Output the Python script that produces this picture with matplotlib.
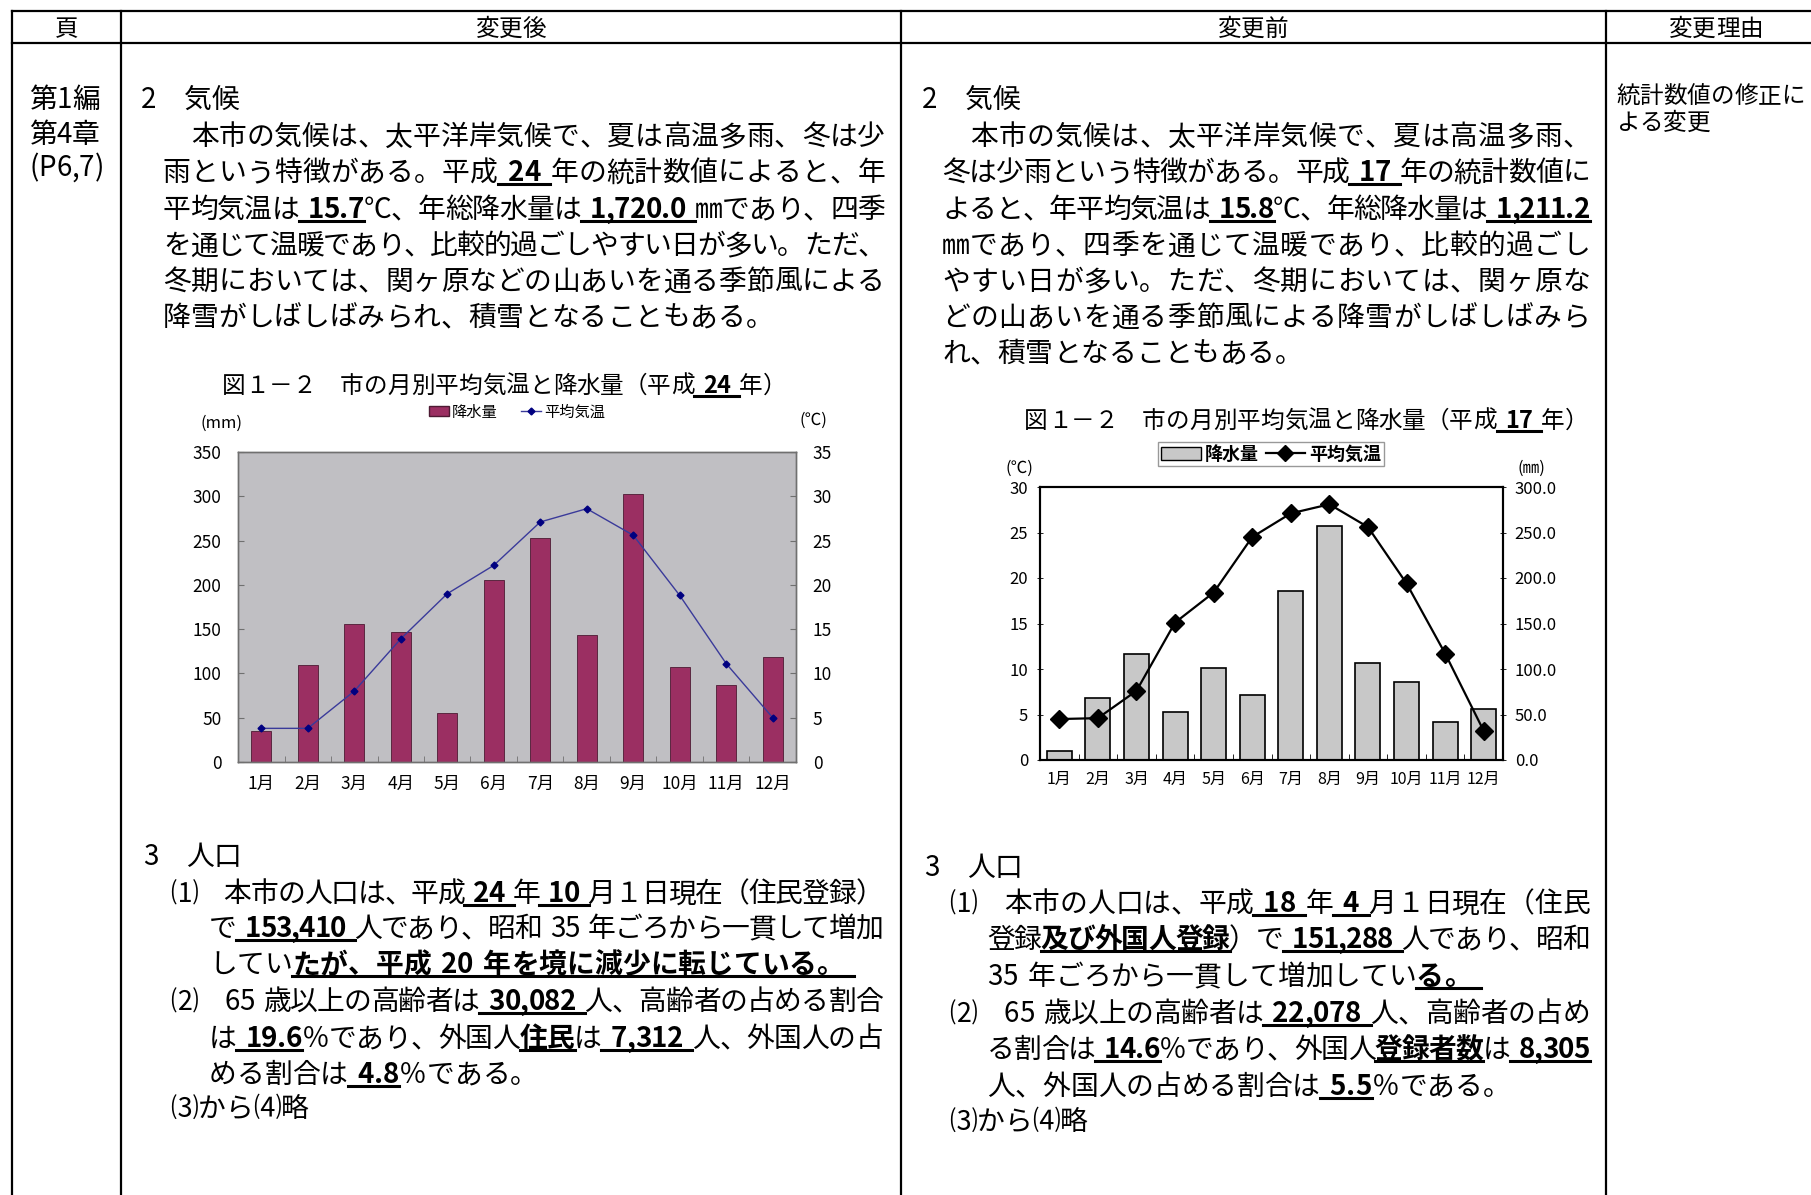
import matplotlib
matplotlib.use('Agg')
import matplotlib.pyplot as plt
from matplotlib.lines import Line2D
from matplotlib.patches import Patch
from matplotlib.font_manager import FontProperties
from matplotlib.ticker import FormatStrFormatter
import numpy as np

plt.rcParams['font.family'] = ['Noto Sans CJK JP', 'DejaVu Sans']

W, H = 1811, 1195

# --- chart data ---
months = ['1月', '2月', '3月', '4月', '5月', '6月', '7月', '8月', '9月', '10月', '11月', '12月']
rain_h24 = [35, 110, 156, 147, 55, 206, 253, 143, 303, 107, 87, 119]          # mm
temp_h24 = [3.8, 3.8, 8.0, 13.9, 19.0, 22.2, 27.1, 28.6, 25.6, 18.8, 11.1, 5.0]  # deg C
rain_h17 = [10.3, 68.6, 117.0, 53.2, 100.8, 71.1, 185.2, 256.7, 106.7, 85.4, 41.4, 56.1]
temp_h17 = [4.5, 4.6, 7.6, 15.1, 18.4, 24.5, 27.1, 28.1, 25.6, 19.4, 11.7, 3.2]

# --- document text (**...** = bold + underlined) ---
headers = ['頁', '変更後', '変更前', '変更理由']
page_ref = ['第1編', '第4章', '(P6,7)']
reason = ['統計数値の修正に', 'よる変更']

after_climate = [
    '2　気候',
    '　本市の気候は、太平洋岸気候で、夏は高温多雨、冬は少',
    '雨という特徴がある。平成** 24 **年の統計数値によると、年',
    '平均気温は** 15.7**℃、年総降水量は** 1,720.0 **㎜であり、四季',
    'を通じて温暖であり、比較的過ごしやすい日が多い。ただ、',
    '冬期においては、関ヶ原などの山あいを通る季節風による',
    '降雪がしばしばみられ、積雪となることもある。',
]
before_climate = [
    '2　気候',
    '　本市の気候は、太平洋岸気候で、夏は高温多雨、',
    '冬は少雨という特徴がある。平成** 17 **年の統計数値に',
    'よると、年平均気温は** 15.8**℃、年総降水量は** 1,211.2**',
    '㎜であり、四季を通じて温暖であり、比較的過ごし',
    'やすい日が多い。ただ、冬期においては、関ヶ原な',
    'どの山あいを通る季節風による降雪がしばしばみら',
    'れ、積雪となることもある。',
]
after_pop = [
    '3　人口',
    '⑴　本市の人口は、平成** 24 **年** 10 **月１日現在（住民登録）',
    'で** 153,410 **人であり、昭和 35 年ごろから一貫して増加',
    'してい**たが、平成 20 年を境に減少に転じている。 **',
    '⑵　65 歳以上の高齢者は** 30,082 **人、高齢者の占める割合',
    'は** 19.6**％であり、外国人**住民**は** 7,312 **人、外国人の占',
    'める割合は** 4.8**％である。',
    '⑶から⑷略',
]
before_pop = [
    '3　人口',
    '⑴　本市の人口は、平成** 18 **年** 4 **月１日現在（住民',
    '登録**及び外国人登録**）で** 151,288 **人であり、昭和',
    '35 年ごろから一貫して増加してい**る。 **',
    '⑵　65 歳以上の高齢者は** 22,078 **人、高齢者の占め',
    'る割合は** 14.6**％であり、外国人**登録者数**は** 8,305**',
    '人、外国人の占める割合は** 5.5**％である。',
    '⑶から⑷略',
]
title_after = '図１－２　市の月別平均気温と降水量（平成** 24 **年）'
title_before = '図１－２　市の月別平均気温と降水量（平成** 17 **年）'

fig = plt.figure(figsize=(W / 100, H / 100), dpi=100)
rend = fig.canvas.get_renderer()
FAM = ['Noto Sans CJK JP', 'DejaVu Sans']
_adv = {}


def adv(ch, bold, size):
    # advance width of one character in pixels
    key = (ch, bold, size)
    if key not in _adv:
        if ch == ' ':
            _adv[key] = 0.35 * size * 100 / 72
        else:
            fp = FontProperties(family=FAM, weight='bold' if bold else 'normal', size=size)
            w1 = rend.get_text_width_height_descent('M' + ch + 'M', fp, ismath=False)[0]
            w0 = rend.get_text_width_height_descent('MM', fp, ismath=False)[0]
            _adv[key] = w1 - w0
    return _adv[key]


def fline(x0, y0, x1, y1, lw=1.6, color='k'):
    fig.add_artist(Line2D([x0 / W, x1 / W], [1 - y0 / H, 1 - y1 / H], color=color, lw=lw,
                          transform=fig.transFigure))


def draw_line(x, yc, text, size=20, end=None, center=None):
    parts = text.split('**')
    chars = []
    for i, p in enumerate(parts):
        for ch in p:
            chars.append((ch, i % 2 == 1))
    ws = [adv(c, b, size) for c, b in chars]
    if center is not None:
        x = center - sum(ws) / 2
    gap = 0
    if end is not None and len(chars) > 1:
        gap = (end - x - sum(ws)) / (len(chars) - 1)
    yb = yc + 0.37 * size * 100 / 72
    cx = x
    run = None
    for (c, b), w in zip(chars, ws):
        if c not in ' 　':
            fig.text(cx / W, 1 - yb / H, c, fontsize=size, fontweight='bold' if b else 'normal',
                     ha='left', va='baseline')
        if b:
            if run is None:
                run = [cx, cx + w]
            else:
                run[1] = cx + w
        elif run is not None:
            fline(run[0], yb + 3, run[1], yb + 3, lw=2.2)
            run = None
        cx += w + gap
    if run is not None:
        fline(run[0], yb + 3, run[1], yb + 3, lw=2.2)


# --- table frame ---
col_x = [12, 121, 901, 1606]
fline(12, 11, W, 11)
fline(12, 42.5, W, 42.5)
for cxp in col_x:
    fline(cxp, 11, cxp, H)
head_cx = [67, 511, 1253, 1716]
for s, cxp in zip(headers, head_cx):
    draw_line(0, 27, s, size=17, center=cxp)

for s, y in zip(page_ref, [98, 133, 166]):
    draw_line(29, y, s)
for s, y in zip(reason, [94, 121]):
    draw_line(1616, y, s, size=17)

# --- text blocks ---
blocks = [
    (after_climate, [141] + [163] * 6, [98, 135, 171, 208, 244, 280, 316],
     [None, 885, 885, 885, 885, 885, None]),
    (before_climate, [922] + [942] * 7, [98, 135, 171, 208, 244, 280, 316, 352],
     [None] + [1590] * 6 + [None]),
    (after_pop, [143, 170, 209, 209, 170, 209, 209, 170],
     [855, 892, 927, 963, 1000, 1037, 1073, 1107],
     [None, 883, 883, None, 883, 883, None, None]),
    (before_pop, [924, 949, 987, 987, 949, 987, 987, 949],
     [866, 902, 938, 975, 1012, 1048, 1085, 1120],
     [None, 1590, 1590, None, 1590, 1590, None, None]),
]
for lines, xs, ys, ends in blocks:
    for s, x, y, e in zip(lines, xs, ys, ends):
        draw_line(x, y, s, end=e)

draw_line(0, 384, title_after, size=17, center=504)
draw_line(1024, 419, title_before, size=17)

x = np.arange(len(months))

# --- left chart (after) ---
bar_c = '#9B2F62'
line_c = '#3a3a9a'
ax1 = fig.add_axes([238 / W, 1 - 762 / H, (796 - 238) / W, (762 - 452) / H])
ax1.set_facecolor('#C0BFC3')
ax1.bar(x, rain_h24, width=0.42, color=bar_c, edgecolor='#4d1a33', linewidth=0.6)
ax1.set_xlim(-0.5, 11.5)
ax1.set_ylim(0, 350)
ax1.set_yticks(range(0, 351, 50))
ax1.set_xticks(x)
ax1.set_xticklabels(months)
ax1.set_xticks(np.arange(-0.5, 12, 1), minor=True)
ax1b = ax1.twinx()
ax1b.plot(x, temp_h24, color=line_c, lw=1, marker='D', ms=3.5, mfc='#000080', mec='#000080')
ax1b.set_ylim(0, 35)
ax1b.set_yticks(range(0, 36, 5))
for a in (ax1, ax1b):
    for sp in a.spines.values():
        sp.set_color('#707070')
        sp.set_linewidth(1)
    a.tick_params(axis='y', direction='in', length=4, color='#707070', labelsize=12.5, pad=12)
    a.tick_params(axis='x', which='major', length=0, labelsize=12.5, pad=9)
    a.tick_params(axis='x', which='minor', direction='in', length=4, color='#707070')

fig.legend([Patch(facecolor=bar_c, edgecolor='#4d1a33'),
            Line2D([], [], color=line_c, lw=1, marker='D', ms=3.5, mfc='#000080', mec='#000080')],
           ['降水量', '平均気温'], loc='center', bbox_to_anchor=(517 / W, 1 - 412 / H), ncol=2,
           frameon=False, fontsize=11, handlelength=1.3, handletextpad=0.2, columnspacing=1.5)
fig.text(221 / W, 1 - 423 / H, '(mm)', fontsize=12, ha='center', va='center')
fig.text(813 / W, 1 - 420 / H, '(℃)', fontsize=12, ha='center', va='center')

# --- right chart (before) ---
ax2 = fig.add_axes([1040 / W, 1 - 760 / H, (1503 - 1040) / W, (760 - 487) / H])
ax2.bar(x, rain_h17, width=0.65, color='#C8C8C8', edgecolor='black', linewidth=1.2)
ax2.set_xlim(-0.5, 11.5)
ax2.set_ylim(0, 300)
ax2.set_yticks(np.arange(0, 301, 50))
ax2.yaxis.set_major_formatter(FormatStrFormatter('%.1f'))
ax2.set_xticks(x)
ax2.set_xticklabels(months)
ax2.set_xticks(np.arange(-0.5, 12, 1), minor=True)
ax2b = ax2.twinx()
ax2b.plot(x, temp_h17, color='black', lw=1.6, marker='D', ms=9)
ax2b.set_ylim(0, 30)
ax2b.set_yticks(range(0, 31, 5))
ax2.yaxis.tick_right()
ax2b.yaxis.tick_left()
for a in (ax2, ax2b):
    for sp in a.spines.values():
        sp.set_linewidth(1.5)
    a.tick_params(axis='y', direction='inout', length=5, width=0.6, labelsize=12, pad=6)
    a.tick_params(axis='x', which='major', length=0, labelsize=11.5, pad=8)
    a.tick_params(axis='x', which='minor', direction='in', length=4)

fig.legend([Patch(facecolor='#C8C8C8', edgecolor='black'),
            Line2D([], [], color='black', lw=1.6, marker='D', ms=8)],
           ['降水量', '平均気温'], loc='center', bbox_to_anchor=(1271 / W, 1 - 454 / H), ncol=2,
           frameon=True, fancybox=False, edgecolor='#808080', prop={'size': 13, 'weight': 'bold'},
           handlelength=2.2, handletextpad=0.2, columnspacing=0.4, borderpad=0.15)
fig.text(1019 / W, 1 - 468 / H, '(℃)', fontsize=12, ha='center', va='center')
fig.text(1531 / W, 1 - 468 / H, '(㎜)', fontsize=12, ha='center', va='center')

fig.savefig('out.png', dpi=100)
